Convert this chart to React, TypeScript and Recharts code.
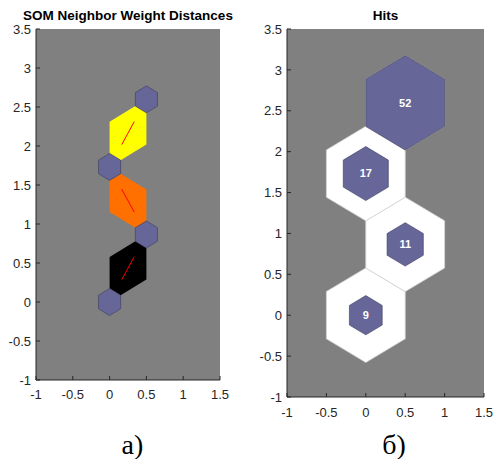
import React from 'react';
import { ScatterChart, Scatter, XAxis, YAxis, CartesianGrid } from 'recharts';

// neuron grid positions (hextop 1x4)
const neuronX = [0, 0.5, 0, 0.5];
const neuronY = [0, 0.866, 1.732, 2.598];
const hitCounts = [9, 11, 17, 52];
const neighborPairs = [[0, 1], [1, 2], [2, 3]];
const distanceColors = ['#000000', '#ff7000', '#ffff00'];
const xTicks = [-1, -0.5, 0, 0.5, 1, 1.5];
const yTicks = [-1, -0.5, 0, 0.5, 1, 1.5, 2, 2.5, 3, 3.5];

// pointy-top hexagon, one grid step wide
const HEX_X = [-0.5, 0, 0.5, 0.5, 0, -0.5];
const HEX_Y = [0.2887, 0.5774, 0.2887, -0.2887, -0.5774, -0.2887];
// patch between two neighbours, along / across the link
const EDGE_A = [0.35, 0, -0.35, -0.35, 0, 0.35];
const EDGE_B = [0.0866, 0.2887, 0.0866, -0.0866, -0.2887, -0.0866];

const FONT = '"Liberation Sans", Arial, Helvetica, sans-serif';
const SERIF = '"Liberation Serif", "Times New Roman", serif';
const AXIS_COLOR = '#262626';
const NEURON_COLOR = '#666699';

const hexagon = (cx: number, cy: number, s: number) => {
    const pts = HEX_X.map((hx, k) => ({ x: cx + hx * s, y: cy + HEX_Y[k] * s }));
    return [...pts, pts[0]];
};

const link = (i: number, j: number) => {
    const dx = neuronX[j] - neuronX[i];
    const dy = neuronY[j] - neuronY[i];
    const len = Math.hypot(dx, dy);
    return { ux: dx / len, uy: dy / len, mx: (neuronX[i] + neuronX[j]) / 2, my: (neuronY[i] + neuronY[j]) / 2 };
};

const edgePatch = (i: number, j: number) => {
    const { ux, uy, mx, my } = link(i, j);
    const pts = EDGE_A.map((a, k) => ({ x: mx + a * ux - EDGE_B[k] * uy, y: my + a * uy + EDGE_B[k] * ux }));
    return [...pts, pts[0]];
};

const edgeLine = (i: number, j: number) => {
    const { ux, uy, mx, my } = link(i, j);
    return [
        { x: mx - 0.17 * ux, y: my - 0.17 * uy },
        { x: mx + 0.17 * ux, y: my + 0.17 * uy },
    ];
};

const maxHits = Math.max(...hitCounts);
const hitCenters = neuronX.map((x, i) => ({ x, y: neuronY[i], hits: hitCounts[i] }));

const noDot = () => <g />;

const renderAxes = (tickMargin: number, yWidth: number) => [
    <XAxis
        key="xb"
        xAxisId={0}
        type="number"
        dataKey="x"
        domain={[-1, 1.5]}
        ticks={xTicks}
        allowDataOverflow
        height={30}
        tickSize={-4}
        tickMargin={tickMargin}
        axisLine={{ stroke: AXIS_COLOR }}
        tickLine={{ stroke: AXIS_COLOR }}
        tick={{ fill: AXIS_COLOR, fontSize: 13, fontFamily: FONT }}
    />,
    <XAxis
        key="xt"
        xAxisId="top"
        orientation="top"
        type="number"
        dataKey="x"
        domain={[-1, 1.5]}
        ticks={xTicks}
        allowDataOverflow
        height={0}
        tickSize={-4}
        tick={false}
        axisLine={{ stroke: AXIS_COLOR }}
        tickLine={{ stroke: AXIS_COLOR }}
    />,
    <YAxis
        key="yl"
        yAxisId={0}
        type="number"
        dataKey="y"
        domain={[-1, 3.5]}
        ticks={yTicks}
        allowDataOverflow
        width={yWidth}
        tickSize={-4}
        tickMargin={9}
        axisLine={{ stroke: AXIS_COLOR }}
        tickLine={{ stroke: AXIS_COLOR }}
        tick={{ fill: AXIS_COLOR, fontSize: 13, fontFamily: FONT }}
    />,
    <YAxis
        key="yr"
        yAxisId="right"
        orientation="right"
        type="number"
        dataKey="y"
        domain={[-1, 3.5]}
        ticks={yTicks}
        allowDataOverflow
        width={0}
        tickSize={-4}
        tick={false}
        axisLine={{ stroke: AXIS_COLOR }}
        tickLine={{ stroke: AXIS_COLOR }}
    />,
];

const NeighborDistances = () => (
    <ScatterChart width={247} height={459} margin={{ top: 29, right: 27, left: 0, bottom: 49 }}>
        <CartesianGrid fill="#808080" stroke="none" horizontal={false} vertical={false} />
        {renderAxes(14, 36)}
        {neighborPairs.map(([i, j], k) => (
            <Scatter
                key={`patch-${k}`}
                data={edgePatch(i, j)}
                shape={noDot}
                line={{ fill: distanceColors[k], stroke: 'none' }}
                isAnimationActive={false}
            />
        ))}
        {neighborPairs.map(([i, j], k) => (
            <Scatter
                key={`line-${k}`}
                data={edgeLine(i, j)}
                shape={noDot}
                line={{ stroke: '#ff0000', strokeWidth: 1, fill: 'none' }}
                isAnimationActive={false}
            />
        ))}
        {neuronX.map((x, i) => (
            <Scatter
                key={`neuron-${i}`}
                data={hexagon(x, neuronY[i], 0.3)}
                shape={noDot}
                line={{ fill: NEURON_COLOR, stroke: '#3a3a5c', strokeWidth: 0.6 }}
                isAnimationActive={false}
            />
        ))}
    </ScatterChart>
);

const Hits = () => (
    <ScatterChart width={247} height={459} margin={{ top: 29, right: 10, left: 0, bottom: 32 }}>
        <CartesianGrid fill="#808080" stroke="none" horizontal={false} vertical={false} />
        {renderAxes(15, 40)}
        {neuronX.map((x, i) => (
            <Scatter
                key={`cell-${i}`}
                data={hexagon(x, neuronY[i], 1)}
                shape={noDot}
                line={{ fill: '#ffffff', stroke: '#d4d4d4', strokeWidth: 0.8 }}
                isAnimationActive={false}
            />
        ))}
        {neuronX.map((x, i) => (
            <Scatter
                key={`hit-${i}`}
                data={hexagon(x, neuronY[i], Math.sqrt(hitCounts[i] / maxHits))}
                shape={noDot}
                line={{ fill: NEURON_COLOR, stroke: '#3a3a5c', strokeWidth: 0.6 }}
                isAnimationActive={false}
            />
        ))}
        <Scatter
            data={hitCenters}
            isAnimationActive={false}
            shape={(p: any) => (
                <text
                    x={p.cx}
                    y={p.cy}
                    dy="0.35em"
                    textAnchor="middle"
                    fill="#ffffff"
                    fontWeight="bold"
                    fontSize={11}
                    fontFamily={FONT}
                >
                    {p.payload?.hits}
                </text>
            )}
        />
    </ScatterChart>
);

export default function App() {
    return (
        <div style={{ position: 'absolute', left: 0, top: 0, width: 494, height: 459, background: '#ffffff' }}>
            <svg width={494} height={459} style={{ position: 'absolute', left: 0, top: 0 }}>
                <text x={128} y={19.5} textAnchor="middle" fontFamily={FONT} fontWeight="bold" fontSize={13.5} fill="#000">
                    SOM Neighbor Weight Distances
                </text>
                <text x={385.5} y={19.5} textAnchor="middle" fontFamily={FONT} fontWeight="bold" fontSize={13.5} fill="#000">
                    Hits
                </text>
                <text x={132.5} y={454} textAnchor="middle" fontFamily={SERIF} fontSize={28} fill="#000">
                    a)
                </text>
                <text x={394} y={454} textAnchor="middle" fontFamily={SERIF} fontSize={28} fill="#000">
                    б)
                </text>
            </svg>
            <div style={{ position: 'absolute', left: 0, top: 0 }}>
                <NeighborDistances />
            </div>
            <div style={{ position: 'absolute', left: 247, top: 0 }}>
                <Hits />
            </div>
        </div>
    );
}
